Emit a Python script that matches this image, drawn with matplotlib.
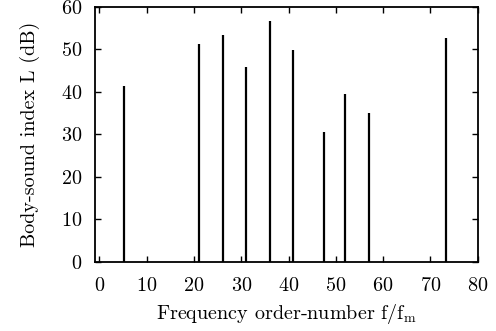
import numpy as np
import matplotlib
matplotlib.use('Agg')
import matplotlib.pyplot as plt

plt.rcParams['font.family'] = 'serif'
plt.rcParams['font.serif'] = ['cmr10', 'DejaVu Serif']
plt.rcParams['mathtext.fontset'] = 'cm'
plt.rcParams['axes.formatter.use_mathtext'] = True

# ordem de frequência e nível sonoro (dB)
order = [5.1, 21.0, 26.1, 31.0, 36.0, 40.9, 47.5, 52.0, 57.0, 73.2]
level = [41.4, 51.2, 53.4, 45.9, 56.8, 49.9, 30.6, 39.5, 35.1, 52.7]
xticks = [0, 10, 20, 30, 40, 50, 60, 70, 80]
yticks = [0, 10, 20, 30, 40, 50, 60]

fig = plt.figure(figsize=(4.96, 3.31), dpi=100)
ax = fig.add_axes([0.191, 0.2085, 0.772, 0.7705])
ax.vlines(order, 0, level, colors='k', linewidth=1.6)
ax.set_xlim(-1, 80)
ax.set_ylim(0, 60)
ax.set_xticks(xticks)
ax.set_yticks(yticks)
ax.tick_params(direction='in', top=True, right=True, labelsize=14.5, length=4, width=1)
ax.tick_params(axis='x', pad=11)
ax.tick_params(axis='y', pad=9)
for s in ax.spines.values():
    s.set_linewidth(1.3)
ax.set_xlabel(r'Frequency order-number f/f$_\mathrm{m}$', fontsize=14.5, labelpad=5)
ax.set_ylabel('Body-sound index L (dB)', fontsize=14.5, labelpad=15)

fig.savefig('out.png', dpi=100)
